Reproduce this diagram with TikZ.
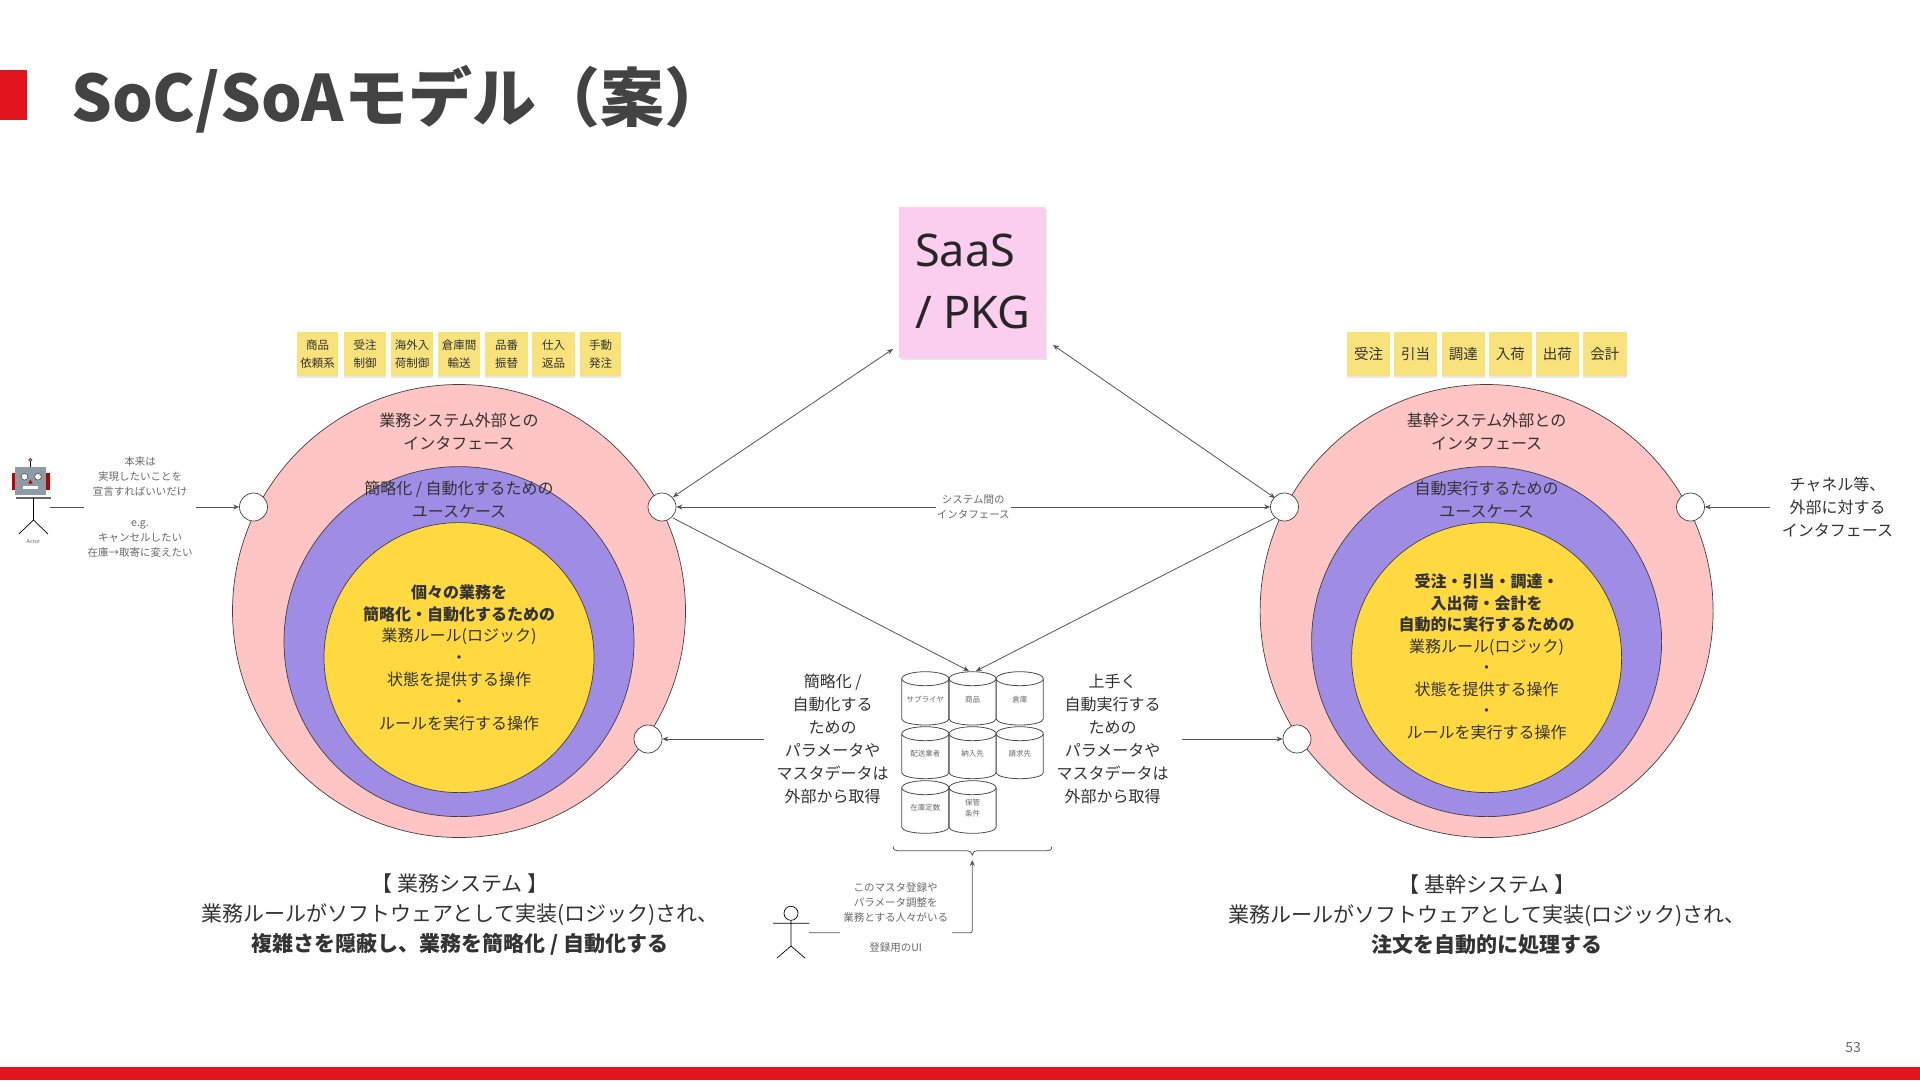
\documentclass[tikz,border=0pt]{standalone}
\usepackage{fontspec}
\setmainfont{Noto Sans CJK JP}
\newfontfamily\latinui{Noto Sans}
\usetikzlibrary{arrows.meta,shadows}
\definecolor{ttl}{HTML}{434343}
\definecolor{txt}{HTML}{333333}
\definecolor{fade}{HTML}{6A6A6A}
\definecolor{brand}{HTML}{E2141E}
\definecolor{ringA}{HTML}{FFC4C4}
\definecolor{ringB}{HTML}{9F8CE5}
\definecolor{ringC}{HTML}{FFD93F}
\definecolor{sticky}{HTML}{F8E27C}
\definecolor{saasc}{HTML}{FBCDEF}
\definecolor{wire}{HTML}{555555}
\definecolor{robot}{HTML}{8C9BA5}
\newcommand{\fsz}[2]{\fontsize{#1pt}{#2pt}\selectfont}
\tikzset{
  ring/.style={circle,draw=black!75,line width=.7pt,inner sep=0pt},
  port/.style={circle,draw=black!75,fill=white,line width=.7pt,minimum size=28pt,inner sep=0pt},
  note/.style={sticky note base,minimum height=44pt},
  sticky note base/.style={fill=sticky,inner sep=0pt,align=center,text=txt,drop shadow={opacity=.18,shadow xshift=0pt,shadow yshift=-1.5pt}},
  lab/.style={align=center,text=txt,font=\fsz{16}{23}},
  small/.style={align=center,text=fade,font=\fsz{10.5}{15},fill=white,inner sep=1pt},
  tiny/.style={align=center,text=fade,font=\fsz{7.5}{10.5},inner sep=0pt},
  wirea/.style={draw=wire,line width=.8pt,-{Stealth[length=6pt,width=5pt]}},
  wireb/.style={draw=wire,line width=.8pt,{Stealth[length=6pt,width=5pt]}-{Stealth[length=6pt,width=5pt]}},
  can/.style={draw=black!70,line width=.8pt,fill=white},
  stick/.style={draw=black,line width=.7pt},
}
% x-centre, top y, bottom y, name, label
\newcommand{\drum}[5]{%
  \path[can] (#1-23.5,#2+7) -- (#1-23.5,#3-6) arc[start angle=180,end angle=360,x radius=23.5pt,y radius=6pt] -- (#1+23.5,#2+7) arc[start angle=0,end angle=180,x radius=23.5pt,y radius=7pt] -- cycle;
  \path[can,fill=none] (#1-23.5,#2+7) arc[start angle=180,end angle=360,x radius=23.5pt,y radius=7pt];
  \node[tiny] (#4) at (#1,{(#2+#3)/2+1}) {#5};
}
\begin{document}
\begin{tikzpicture}[x=1pt,y=-1pt]
\useasboundingbox (0,0) rectangle (1920,1080);
\fill[white] (0,0) rectangle (1920,1080);
% header and footer
\fill[brand] (0,70) rectangle (27,120);
\fill[brand] (0,1067) rectangle (1920,1080);
\node[anchor=base west,inner sep=0pt,text=ttl,font=\fsz{64}{70}\bfseries] (title) at (71,121) {SoC/SoAモデル（案）};
\node[text=fade,font=\fsz{14}{16},inner sep=0pt] (pageno) at (1853,1047) {53};

% SaaS box
\node[fill=saasc,minimum width=146pt,minimum height=151pt,inner sep=0pt,drop shadow={opacity=.2,shadow xshift=1.5pt,shadow yshift=-2pt}] (saas) at (972,282.5) {};
\node[anchor=west,inner sep=0pt,text=black!85,font=\latinui\fsz{45}{62},align=left] (saastext) at (915,281) {SaaS\\/ PKG};

% left rings
\node[ring,fill=ringA,minimum size=453pt] (la) at (459,611) {};
\node[ring,fill=ringB,minimum size=350pt] (lb) at (459,641.6) {};
\node[ring,fill=ringC,minimum size=270pt] (lc) at (459,657.6) {};
% right rings
\node[ring,fill=ringA,minimum size=453pt] (ra) at (1486.6,611) {};
\node[ring,fill=ringB,minimum size=350pt] (rb) at (1486.6,641.6) {};
\node[ring,fill=ringC,minimum size=270pt] (rc) at (1486.6,657.6) {};

% ports
\node[port] (p1) at (253.5,507) {};
\node[port] (p2) at (662,507) {};
\node[port] (p3) at (648,739) {};
\node[port] (p4) at (1284.5,507) {};
\node[port] (p5) at (1690.5,507) {};
\node[port] (p6) at (1297,739) {};

% ring texts
\node[lab] (lat) at (459,432) {業務システム外部との\\インタフェース};
\node[lab] (lbt) at (459,500) {簡略化 / 自動化するための\\ユースケース};
\node[lab,font=\fsz{16}{21.9}] (lct) at (459,657.7) {{\bfseries 個々の業務を}\\{\bfseries 簡略化・自動化するための}\\業務ルール(ロジック)\\・\\状態を提供する操作\\・\\ルールを実行する操作};
\node[lab] (rat) at (1486.6,432) {基幹システム外部との\\インタフェース};
\node[lab] (rbt) at (1486.6,500) {自動実行するための\\ユースケース};
\node[lab,font=\fsz{16}{21.5}] (rct) at (1486.6,657) {{\bfseries 受注・引当・調達・}\\{\bfseries 入出荷・会計を}\\{\bfseries 自動的に実行するための}\\業務ルール(ロジック)\\・\\状態を提供する操作\\・\\ルールを実行する操作};

% stickies left
\foreach \nm/\xa/\xb/\t in {s1/297/338/商品\\依頼系,s2/344/386/受注\\制御,s3/391/433/海外入\\荷制御,s4/438/480/倉庫間\\輸送,s5/485/528/品番\\振替,s6/532/575/仕入\\返品,s7/580/621/手動\\発注}{
  \node[note,minimum width={(\xb-\xa)*1pt},font=\fsz{11.5}{17.5}] (\nm) at ({(\xa+\xb)/2},354) {\t};
}
% stickies right
\foreach \nm/\xa/\xb/\t in {t1/1347.4/1390/受注,t2/1394/1437/引当,t3/1442/1484.6/調達,t4/1489/1531.6/入荷,t5/1536/1578.7/出荷,t6/1583/1626.5/会計}{
  \node[note,minimum width={(\xb-\xa)*1pt},font=\fsz{14.5}{18}] (\nm) at ({(\xa+\xb)/2},354) {\t};
}

% free ends
\coordinate (saasL) at (893,349);
\coordinate (saasR) at (1053,345);
\coordinate (dbL) at (969,671);
\coordinate (dbR) at (976,671);
\coordinate (p2a) at (673,497);
\coordinate (p4a) at (1275,498);
\coordinate (p2b) at (673,518);
\coordinate (p4b) at (1275,518);
\coordinate (actorHand) at (50,507);
\coordinate (chan) at (1770,507);
\coordinate (paramL) at (764,739);
\coordinate (paramR) at (1182,739);
\coordinate (braceTip) at (972.3,860);
\coordinate (userHand) at (809,932.7);
\coordinate (corner) at (972.3,932.7);

% connectors
\draw[wireb] (p2a) -- (saasL);
\draw[wireb] (p4a) -- (saasR);
\draw[wireb] (p2) -- (p4) node[small,midway] (sysif) {システム間の\\インタフェース};
\draw[wirea] (p2b) -- (dbL);
\draw[wirea] (p4b) -- (dbR);
\draw[wirea] (paramL) -- (p3);
\draw[wirea] (paramR) -- (p6);
\draw[wirea,line width=.6pt] (chan) -- (p5);
\draw[wirea] (actorHand) -- (p1);
\draw[wirea,rounded corners=2pt] (userHand) -- (corner) -- (braceTip);

% side labels
\node[small,minimum width=112pt,minimum height=100pt] (actorlab) at (140,507) {本来は\\実現したいことを\\宣言すればいいだけ\\[16pt]e.g.\\キャンセルしたい\\在庫→取寄に変えたい};
\node[lab] (chanlab) at (1837.5,507) {チャネル等、\\外部に対する\\インタフェース};
\node[lab] (midL) at (832.7,739) {簡略化 /\\自動化する\\ための\\パラメータや\\マスタデータは\\外部から取得};
\node[lab] (midR) at (1112.7,739) {上手く\\自動実行する\\ための\\パラメータや\\マスタデータは\\外部から取得};
\node[small,minimum width=112pt] (userlab) at (895.7,918) {このマスタ登録や\\パラメータ調整を\\業務とする人々がいる\\[15pt]登録用のUI};

% drums
\drum{925.3}{671.7}{725}{d1}{サプライヤ}
\drum{972.6}{671.7}{725}{d2}{商品}
\drum{1019.8}{671.7}{725}{d3}{倉庫}
\drum{925.3}{726.7}{778.7}{d4}{配送業者}
\drum{972.6}{726.7}{778.7}{d5}{納入先}
\drum{1019.8}{726.7}{778.7}{d6}{請求先}
\drum{925.3}{780.7}{833.3}{d7}{在庫定数}
\drum{972.6}{780.7}{833.3}{d8}{保管\\条件}

% brace
\draw[wire,line width=.8pt] (893.3,846.5) .. controls (893.3,850) and (895,850.7) .. (898,850.7) -- (967,850.7) .. controls (970,850.7) and (971.5,852) .. (972.3,855) .. controls (973,852) and (974.5,850.7) .. (977,850.7) -- (1047,850.7) .. controls (1050,850.7) and (1051.7,850) .. (1051.7,846.5);

% captions
\node[align=center,text=txt,font=\fsz{21}{30}] (capL) at (460,915) {【 業務システム 】\\業務ルールがソフトウェアとして実装(ロジック)され、\\{\bfseries 複雑さを隠蔽し、業務を簡略化 / 自動化する}};
\node[align=center,text=txt,font=\fsz{21}{30}] (capR) at (1487,915) {【 基幹システム 】\\業務ルールがソフトウェアとして実装(ロジック)され、\\{\bfseries 注文を自動的に処理する}};

% robot actor
\draw[stick] (30.4,462) -- (30.4,467);
\fill[black!45,draw=red!50!black,line width=.4pt] (30.4,460) circle[radius=1.8pt];
\fill[red!75!black] (11.6,472.7) rectangle (50,490);
\fill[robot] (14.7,466.7) rectangle (46,495);
\fill[white,draw=black!70,line width=.6pt] (24.5,476.7) circle[radius=3.4pt] (38,476.7) circle[radius=3.4pt];
\fill[red!70!black] (30.4,479.5) -- (28.4,483.5) -- (32.4,483.5) -- cycle;
\fill[white] (23,485.5) rectangle (38,489);
\draw[black!60,line width=1.6pt] (16,497.7) -- (51,497.7);
\draw[stick] (33.5,497.7) -- (33.5,520) (18.8,534) -- (33.5,520) -- (48,534);
\node[text=fade,font=\latinui\fsz{5.5}{6},inner sep=0pt] (actorname) at (33.5,541.7) {Actor};

% user actor
\draw[stick] (791,913.3) circle[radius=7pt];
\draw[stick] (791,920.3) -- (791,946) (773,923.3) -- (809,923.3) (777,958) -- (791,946) -- (805,958);
\end{tikzpicture}
\end{document}
